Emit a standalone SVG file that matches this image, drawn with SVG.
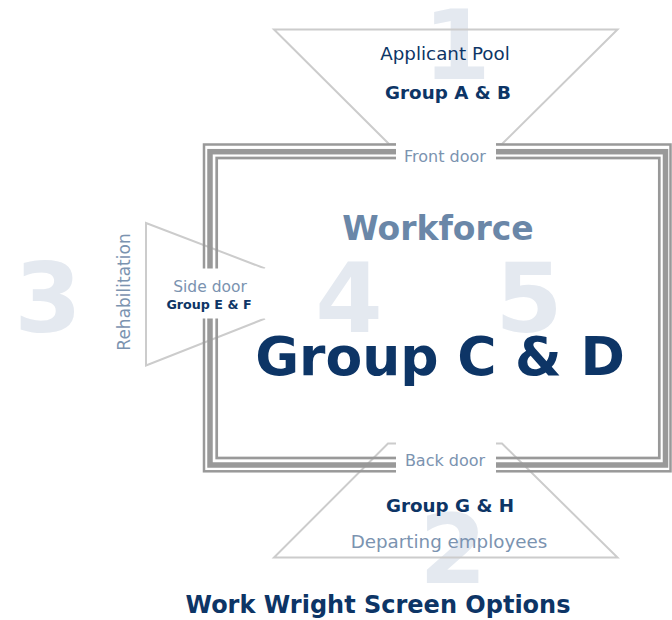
<svg xmlns="http://www.w3.org/2000/svg" width="672" height="620" viewBox="0 0 672 620">
<style>
text{font-family:"DejaVu Sans",Verdana,sans-serif;}
.num{font-weight:bold;font-size:97px;fill:#e4e9f0;text-anchor:middle;}
.funnel{fill:none;stroke:#cccccc;stroke-width:2;}
.border{fill:none;stroke:#999999;}
.gap{fill:#ffffff;stroke:none;}
.door{fill:#7b93b0;text-anchor:middle;}
.grp{fill:#0d3566;font-weight:bold;text-anchor:middle;}
.lbl{fill:#0d3566;text-anchor:middle;}
.sub{fill:#7b93b0;text-anchor:middle;}
</style>
<g id="numbers">
<text class="num" x="457" y="79">1</text>
<text class="num" x="453" y="583">2</text>
<text class="num" x="48" y="332">3</text>
<text class="num" x="349" y="332">4</text>
<text class="num" x="529" y="332">5</text>
</g>
<g id="connectors">
<path class="funnel" d="M389,144 L274,29.5 L617.5,29.5 L502,144 Z"/>
<path class="funnel" d="M388,443.5 L274,557.5 L617.5,557.5 L502,443.5 Z"/>
<path class="funnel" d="M265,268.5 L146,223 L146,365.5 L265,318.5"/>
</g>
<g id="workforce">
<rect class="border" x="204" y="144.5" width="466.5" height="326.8" stroke-width="2.5"/>
<rect class="border" x="210" y="151.7" width="455.5" height="313.3" stroke-width="5.5"/>
<rect class="border" x="216.7" y="158" width="442.6" height="300" stroke-width="2.7"/>
<rect class="gap" x="396" y="139" width="100" height="24"/>
<rect class="gap" x="396" y="441.5" width="100" height="33"/>
<rect class="gap" x="198" y="268.5" width="67" height="50"/>
<text x="438" y="240" font-size="33" font-weight="bold" fill="#6a87a8" text-anchor="middle">Workforce</text>
<text class="grp" x="440" y="375" font-size="53.5">Group C &amp; D</text>
</g>
<g id="front-door">
<text class="door" x="445" y="162" font-size="16">Front door</text>
</g>
<g id="applicant-pool">
<text class="lbl" x="445" y="60" font-size="18.3">Applicant Pool</text>
<text class="grp" x="448" y="99" font-size="18.3">Group A &amp; B</text>
</g>
<g id="back-door">
<text class="door" x="445" y="466" font-size="16">Back door</text>
</g>
<g id="departing">
<text class="grp" x="450" y="512" font-size="18.3">Group G &amp; H</text>
<text class="sub" x="449" y="547.5" font-size="18.3">Departing employees</text>
</g>
<g id="side-door">
<text class="door" x="210" y="292" font-size="15.5">Side door</text>
<text class="grp" x="209" y="309" font-size="12.7">Group E &amp; F</text>
</g>
<g id="rehabilitation">
<text class="sub" x="0" y="0" font-size="17" transform="translate(130,292) rotate(-90)">Rehabilitation</text>
</g>
<g id="title">
<text class="grp" x="378" y="613" font-size="24">Work Wright Screen Options</text>
</g>
</svg>
